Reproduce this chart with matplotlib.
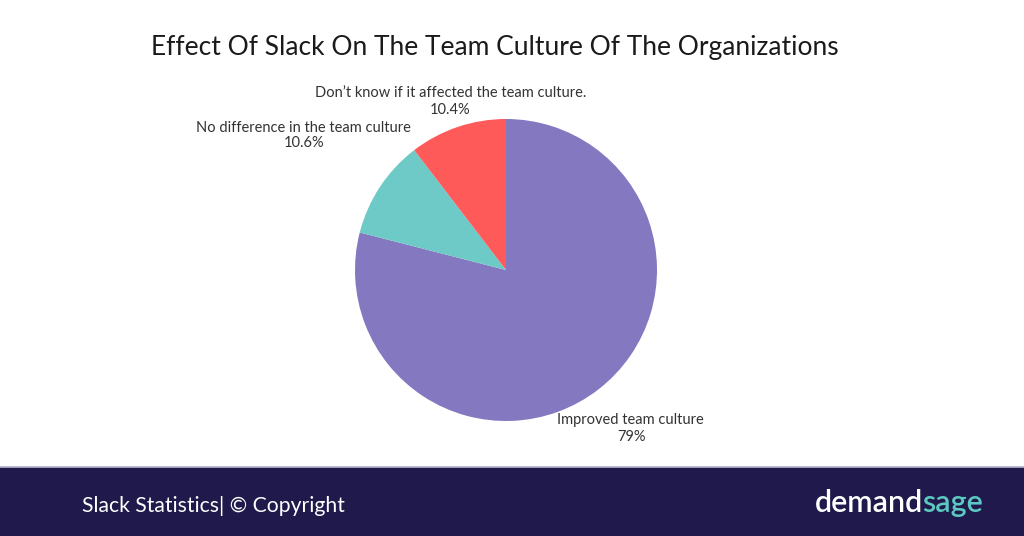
import matplotlib
matplotlib.use("Agg")
import matplotlib.pyplot as plt
from matplotlib.patches import Rectangle

labels = ["Improved team culture", "No difference in the team culture",
          "Don\u2019t know if it affected the team culture."]
values = [79, 10.6, 10.4]
pct_text = ["79%", "10.6%", "10.4%"]
colors = ["#8479C0", "#6DCAC6", "#FF5A5A"]

plt.rcParams['font.family'] = ['Lato', 'DejaVu Sans']

fig = plt.figure(figsize=(10.24, 5.36), dpi=100)
ax = fig.add_axes([0, 0, 1, 1])

# pie, in pixel coordinates (y up)
ax.pie(values, colors=colors, startangle=90, counterclock=False,
       center=(506, 266), radius=151, frame=True,
       wedgeprops=dict(linewidth=0))
ax.set_xlim(0, 1024)
ax.set_ylim(0, 536)
ax.set_aspect('auto')
ax.axis('off')

# labels
lab_pos = [(630, 116, 99), (303, 408, 393), (451, 443, 426)]
pct_x = [631, 304, 450]
for i, (x, y1, y2) in enumerate(lab_pos):
    ax.text(x, y1, labels[i], ha='center', va='center', fontsize=10.5, color='#333333')
    ax.text(pct_x[i], y2, pct_text[i], ha='center', va='center', fontsize=10.5, color='#333333')

ax.text(495, 489, "Effect Of Slack On The Team Culture Of The Organizations",
        ha='center', va='center', fontsize=19, color='#1a1a1a')

# footer band
ax.add_patch(Rectangle((0, 0), 1024, 69, color='#1F1A4B', zorder=3))
ax.plot([0, 1024], [69, 69], color='#B9B6CF', lw=1.2, zorder=4)
ax.text(82, 30, "Slack Statistics| \u00a9 Copyright", ha='left', va='center',
        fontsize=15.2, color='white', zorder=5)
t = ax.text(815, 33, "demand", ha='left', va='center', fontsize=22,
            color='white', weight='semibold', zorder=5)
fig.canvas.draw()
bb = t.get_window_extent()
x_end = ax.transData.inverted().transform((bb.x1, bb.y0))[0]
ax.text(x_end - 1, 33, "sage", ha='left', va='center', fontsize=22,
        color='#5CC8C0', weight='semibold', zorder=5)

fig.savefig("out.png", dpi=100)
